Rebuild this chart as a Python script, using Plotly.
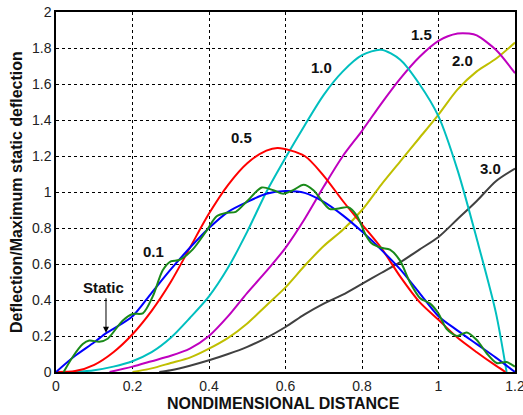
import plotly.graph_objects as go

# ---- data ----
static_x = [0, 0.05, 0.1, 0.13, 0.15, 0.2, 0.25, 0.3, 0.35, 0.4, 0.45, 0.5, 0.55, 0.6, 0.65, 0.7,
            0.75, 0.8, 0.85, 0.9, 0.95, 1.0, 1.05, 1.1, 1.15, 1.2]
static_y = [0, 0.09, 0.165, 0.215, 0.24, 0.31, 0.44, 0.57, 0.69, 0.8, 0.89, 0.945, 0.99, 1.005, 0.995, 0.945,
            0.87, 0.78, 0.68, 0.57, 0.44, 0.31, 0.23, 0.155, 0.08, 0.0]

v01_x = [0.02, 0.044, 0.07, 0.087, 0.113, 0.135, 0.174, 0.2, 0.227, 0.253, 0.279, 0.3, 0.322, 0.357, 0.392,
         0.42, 0.446, 0.47, 0.5, 0.538, 0.568, 0.594, 0.62, 0.647, 0.673, 0.699, 0.716, 0.742, 0.764, 0.786,
         0.81, 0.825, 0.85, 0.873, 0.899, 0.925, 0.952, 0.978, 1.0, 1.021, 1.048, 1.074, 1.1, 1.126, 1.152,
         1.178, 1.2]
v01_y = [0.0, 0.085, 0.155, 0.175, 0.168, 0.185, 0.285, 0.322, 0.326, 0.42, 0.565, 0.615, 0.622, 0.68, 0.78,
         0.865, 0.885, 0.89, 0.95, 1.025, 1.01, 0.99, 1.01, 1.04, 1.01, 0.94, 0.905, 0.91, 0.915, 0.87,
         0.76, 0.715, 0.69, 0.68, 0.62, 0.5, 0.41, 0.38, 0.325, 0.24, 0.2, 0.22, 0.178, 0.104, 0.05,
         0.055, 0.03]

v05_x = [0, 0.05, 0.1, 0.15, 0.2, 0.25, 0.3, 0.35, 0.4, 0.45, 0.5, 0.55, 0.58, 0.65, 0.7, 0.75, 0.8, 0.85,
         0.9, 0.95, 1.0, 1.05, 1.1, 1.15, 1.175]
v05_y = [0, 0.005, 0.04, 0.11, 0.21, 0.34, 0.5, 0.69, 0.88, 1.04, 1.16, 1.23, 1.245, 1.2, 1.09, 0.95, 0.82,
         0.69, 0.53, 0.39, 0.29, 0.19, 0.11, 0.035, 0.0]

v10_x = [0.05, 0.1, 0.15, 0.2, 0.25, 0.3, 0.35, 0.4, 0.45, 0.5, 0.55, 0.6, 0.65, 0.7, 0.75, 0.8, 0.85,
         0.9, 0.95, 1.0, 1.05, 1.1, 1.15, 1.178]
v10_y = [0, 0.01, 0.03, 0.06, 0.11, 0.19, 0.3, 0.42, 0.58, 0.78, 1.0, 1.19, 1.37, 1.54, 1.67, 1.76, 1.79,
         1.735, 1.6, 1.42, 1.12, 0.74, 0.33, 0.0]

v15_x = [0.14, 0.2, 0.25, 0.3, 0.35, 0.4, 0.45, 0.5, 0.55, 0.6, 0.65, 0.7, 0.75, 0.8, 0.85, 0.9, 0.95,
         1.0, 1.05, 1.08, 1.1, 1.15, 1.2]
v15_y = [0, 0.03, 0.06, 0.09, 0.13, 0.2, 0.31, 0.44, 0.56, 0.69, 0.85, 1.03, 1.2, 1.34, 1.49, 1.63, 1.75,
         1.84, 1.88, 1.88, 1.87, 1.79, 1.66]

v20_x = [0.2, 0.25, 0.3, 0.35, 0.4, 0.45, 0.5, 0.55, 0.6, 0.65, 0.7, 0.75, 0.8, 0.85, 0.9, 0.95, 1.0,
         1.05, 1.1, 1.15, 1.2]
v20_y = [0, 0.02, 0.05, 0.08, 0.13, 0.19, 0.27, 0.37, 0.47, 0.59, 0.7, 0.79, 0.9, 1.04, 1.17, 1.3, 1.43,
         1.57, 1.67, 1.74, 1.83]

v30_x = [0.27, 0.3, 0.35, 0.4, 0.45, 0.5, 0.55, 0.6, 0.65, 0.7, 0.75, 0.8, 0.85, 0.9, 0.95, 1.0, 1.05,
         1.1, 1.15, 1.2]
v30_y = [0, 0.01, 0.035, 0.065, 0.1, 0.14, 0.19, 0.25, 0.32, 0.38, 0.43, 0.49, 0.55, 0.61, 0.68, 0.75,
         0.85, 0.95, 1.06, 1.13]

x_ticks = [0, 0.2, 0.4, 0.6, 0.8, 1.0, 1.2]
x_tick_text = ["0", "0.2", "0.4", "0.6", "0.8", "1", "1.2"]
y_ticks = [0, 0.2, 0.4, 0.6, 0.8, 1.0, 1.2, 1.4, 1.6, 1.8, 2.0]
y_tick_text = ["0", "0.2", "0.4", "0.6", "0.8", "1", "1.2", "1.4", "1.6", "1.8", "2"]

labels = ["0.1", "0.5", "1.0", "1.5", "2.0", "3.0", "Static"]
label_x = [0.2554, 0.4855, 0.693, 0.955, 1.064, 1.135, 0.1237]
label_y = [0.667, 1.303, 1.692, 1.874, 1.733, 1.132, 0.471]

x_title = "NONDIMENSIONAL DISTANCE"
y_title = "Deflection/Maximum static deflection"

series = [
    (v30_x, v30_y, "#404040"),
    (v20_x, v20_y, "#bfbf00"),
    (v15_x, v15_y, "#bf00bf"),
    (v10_x, v10_y, "#00bfbf"),
    (v05_x, v05_y, "#ff0000"),
    (static_x, static_y, "#0000ff"),
    (v01_x, v01_y, "#1a8a1a"),
]

FONT = "Liberation Sans, Arial"

fig = go.Figure()
for xs, ys, col in series:
    fig.add_trace(go.Scatter(x=xs, y=ys, mode="lines",
                             line=dict(color=col, width=2, shape="spline", smoothing=0.8),
                             showlegend=False, hoverinfo="skip"))

for t, lx, ly in zip(labels, label_x, label_y):
    fig.add_annotation(x=lx, y=ly, text="<b>%s</b>" % t, showarrow=False,
                       font=dict(family=FONT, size=15, color="#111"))

# arrow for "Static"
fig.add_annotation(x=0.1307, y=0.218, ax=0, ay=-36, text="", showarrow=True,
                   arrowhead=2, arrowsize=1.2, arrowwidth=1, arrowcolor="#000")

# axis titles as paper annotations for precise placement
fig.add_annotation(xref="paper", yref="paper", x=0.4956, y=-0.088, yanchor="middle",
                   text="<b>%s</b>" % x_title, showarrow=False,
                   font=dict(family=FONT, size=16, color="#111"))
fig.add_annotation(xref="paper", yref="paper", x=-0.0871, y=0.5, xanchor="center", yanchor="middle",
                   textangle=-90, text="<b>%s</b>" % y_title, showarrow=False,
                   font=dict(family=FONT, size=16, color="#111"))

axis_common = dict(showline=True, mirror=True, linecolor="#000", linewidth=1.5,
                   showgrid=True, gridcolor="#000", gridwidth=1, griddash="3px,3px",
                   zeroline=False, ticks="", automargin=False, ticklabeloverflow="allow",
                   tickfont=dict(family=FONT, size=14, color="#222"))

fig.update_xaxes(range=[0, 1.2], tickvals=x_ticks, ticktext=x_tick_text, **axis_common)
fig.update_yaxes(range=[0, 2], tickvals=y_ticks, ticktext=y_tick_text, **axis_common)

fig.update_layout(width=523, height=415, margin=dict(l=56, r=8, t=12, b=43),
                  paper_bgcolor="white", plot_bgcolor="white")

fig.write_html("out.html", config={"displayModeBar": False},
               post_script="document.body.style.margin='0';document.body.style.overflow='hidden';")
